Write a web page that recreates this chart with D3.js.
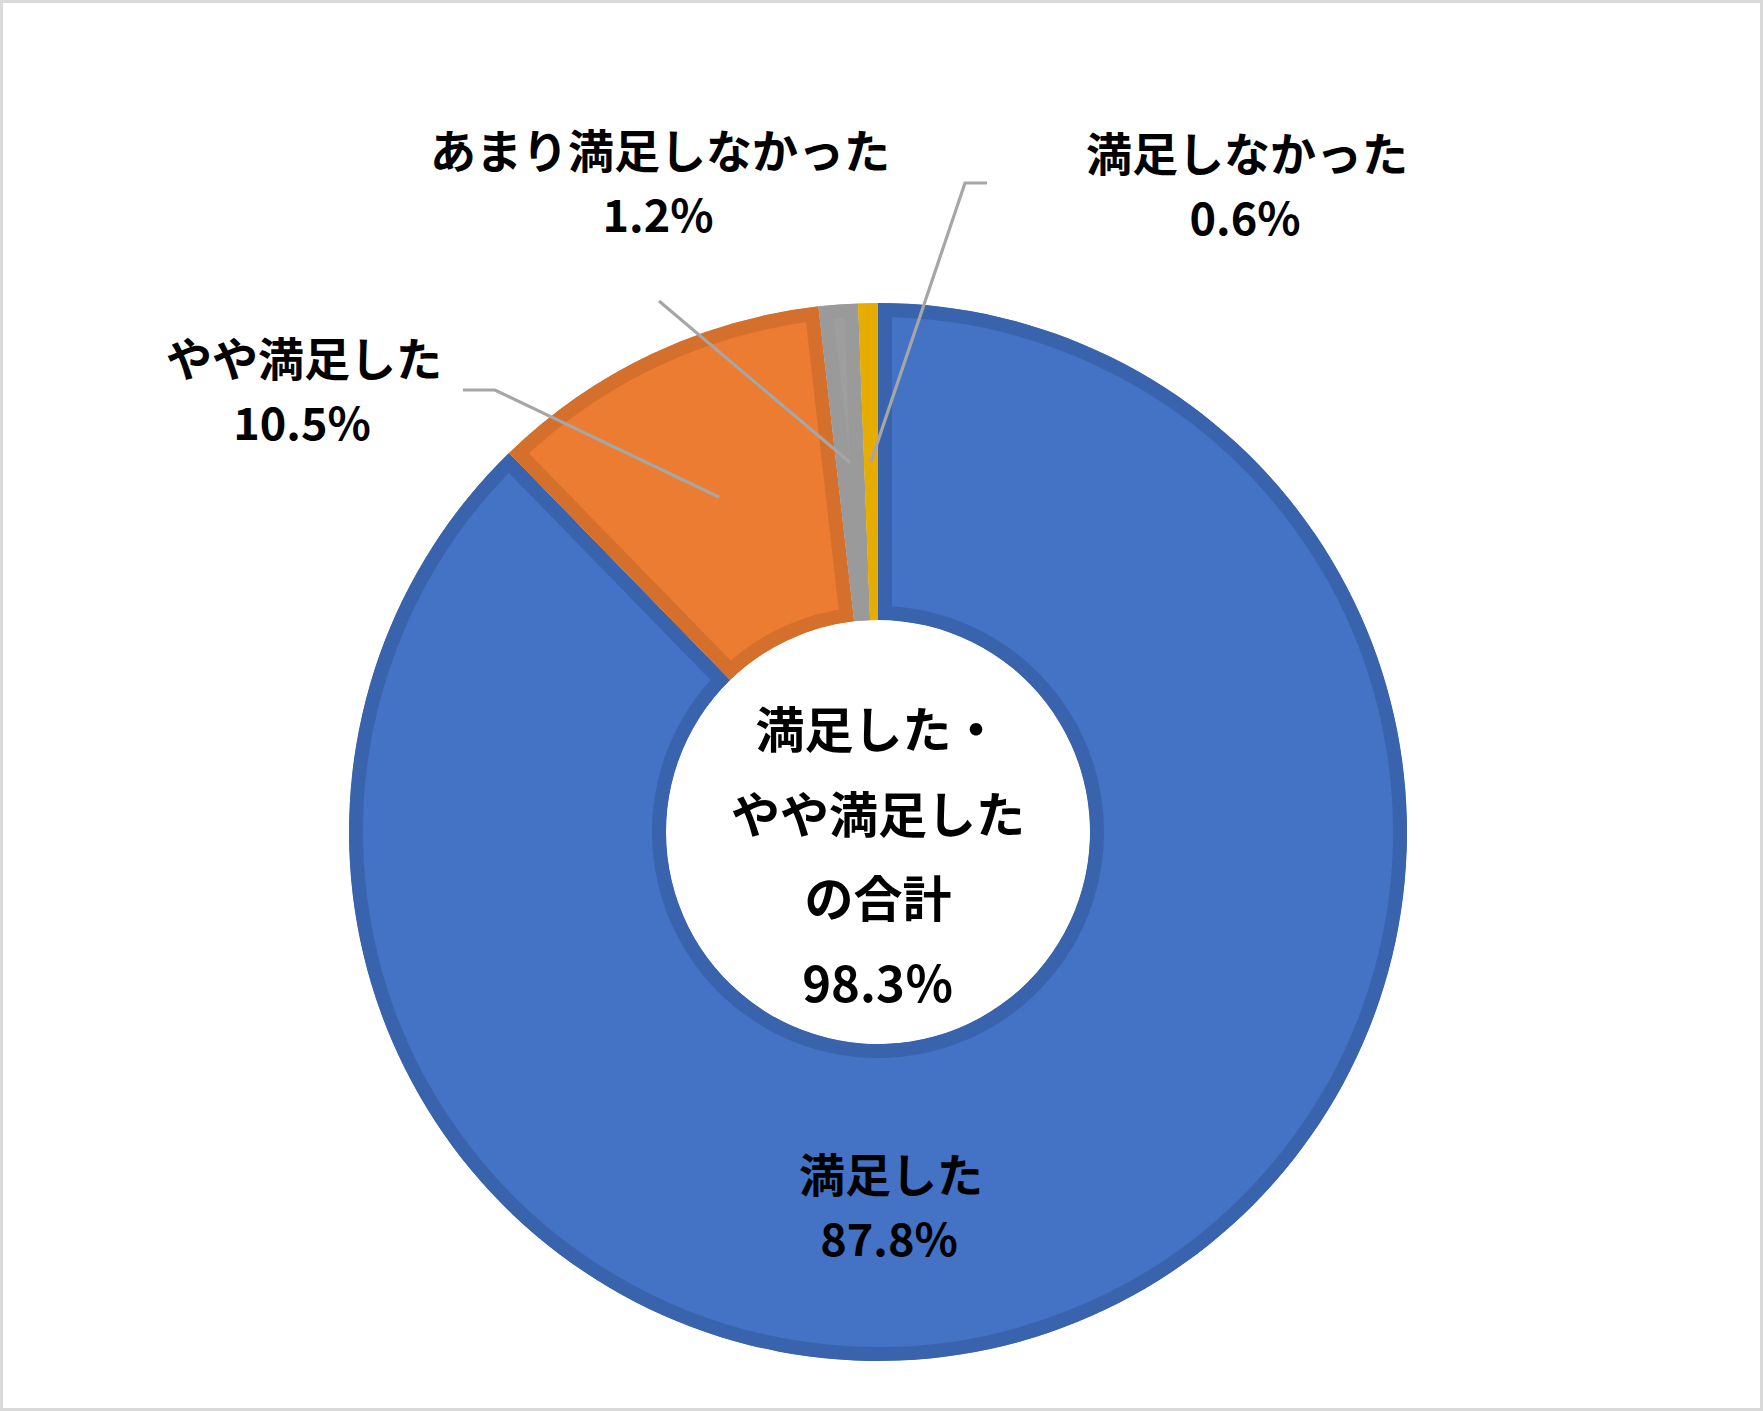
<!DOCTYPE html>
<html>
<head>
<meta charset="utf-8">
<script src="https://cdn.jsdelivr.net/npm/d3@7"></script>
<style>
    body { margin: 0; background: #fff; }
    text { font-family: "Noto Sans CJK JP", "Noto Sans", sans-serif; font-weight: 700; fill: #000; }
</style>
</head>
<body>
<div id="chart"></div>
<script>

// chart data
var categories = ["満足した", "やや満足した", "あまり満足しなかった", "満足しなかった"];
var values = [87.8, 10.5, 1.2, 0.6];
var valueLabels = ["87.8%", "10.5%", "1.2%", "0.6%"];
var centerLines = ["満足した・", "やや満足した", "の合計", "98.3％"];

// look
var fills = ["#4472C4", "#EB7C31", "#9E9E9E", "#E8AF00"];
var borders = ["#3A63AD", "#D4702C", "#9A9A9A", "#E6AD00"];
var width = 1763, height = 1411;
var cx = 878, cy = 832;
var outerR = 529, innerR = 212;
var borderW = 14;
var fontSize = 46;

// label placement (centre of the name line) and leader elbows
var labelPos = [[891, 1176], [304, 360], [660, 152], [1247, 155]];
var leaders = [null, [[463, 390], [495, 390]], [[659, 301]], [[987, 183], [965, 183]]];

var svg = d3.select("#chart").append("svg")
    .attr("width", width)
    .attr("height", height);

svg.append("rect")
    .attr("x", 1.5).attr("y", 1.5)
    .attr("width", width - 3).attr("height", height - 3)
    .style("fill", "#fff")
    .style("stroke", "#D9D9D9")
    .style("stroke-width", 3);

var pie = d3.pie().sort(null).value(function (d) { return d; });
var arc = d3.arc().innerRadius(innerR).outerRadius(outerR);
var slices = pie(values);

var g = svg.append("g").attr("transform", "translate(" + cx + "," + cy + ")");

// slices with the border drawn inside each slice only
g.selectAll("clipPath").data(slices).enter().append("clipPath")
    .attr("id", function (d, i) { return "clip" + i; })
    .append("path")
    .attr("d", arc);

g.selectAll(".slice").data(slices).enter().append("path")
    .classed("slice", true)
    .attr("d", arc)
    .attr("clip-path", function (d, i) { return "url(#clip" + i + ")"; })
    .style("fill", function (d, i) { return fills[i]; })
    .style("stroke", function (d, i) { return borders[i]; })
    .style("stroke-width", borderW * 2)
    .style("stroke-linejoin", "miter");

// leader lines, from the label elbow into the middle of the slice
slices.forEach(function (d, i) {
    if (!leaders[i]) return;
    var c = arc.centroid(d);
    var pts = leaders[i].concat([[cx + c[0], cy + c[1]]]);
    svg.append("path")
        .attr("d", d3.line()(pts))
        .style("fill", "none")
        .style("stroke", "#A6A6A6")
        .style("stroke-width", 3.2);
});

// slice labels
categories.forEach(function (name, i) {
    var p = labelPos[i];
    svg.append("text")
        .attr("x", p[0]).attr("y", p[1])
        .attr("dy", ".35em")
        .attr("text-anchor", "middle")
        .style("font-size", fontSize + "px")
        .text(name);
    svg.append("text")
        .attr("x", p[0] - 2).attr("y", p[1] + 64)
        .attr("dy", ".35em")
        .attr("text-anchor", "middle")
        .style("font-size", (fontSize - 1) + "px")
        .text(valueLabels[i]);
});

// total in the hole
svg.selectAll(".centerTxt").data(centerLines).enter().append("text")
    .classed("centerTxt", true)
    .attr("x", cx)
    .attr("y", function (d, i) { return 731 + i * 84.5; })
    .attr("dy", ".35em")
    .attr("text-anchor", "middle")
    .style("font-size", "49px")
    .text(function (d) { return d; });

</script>
</body>
</html>
